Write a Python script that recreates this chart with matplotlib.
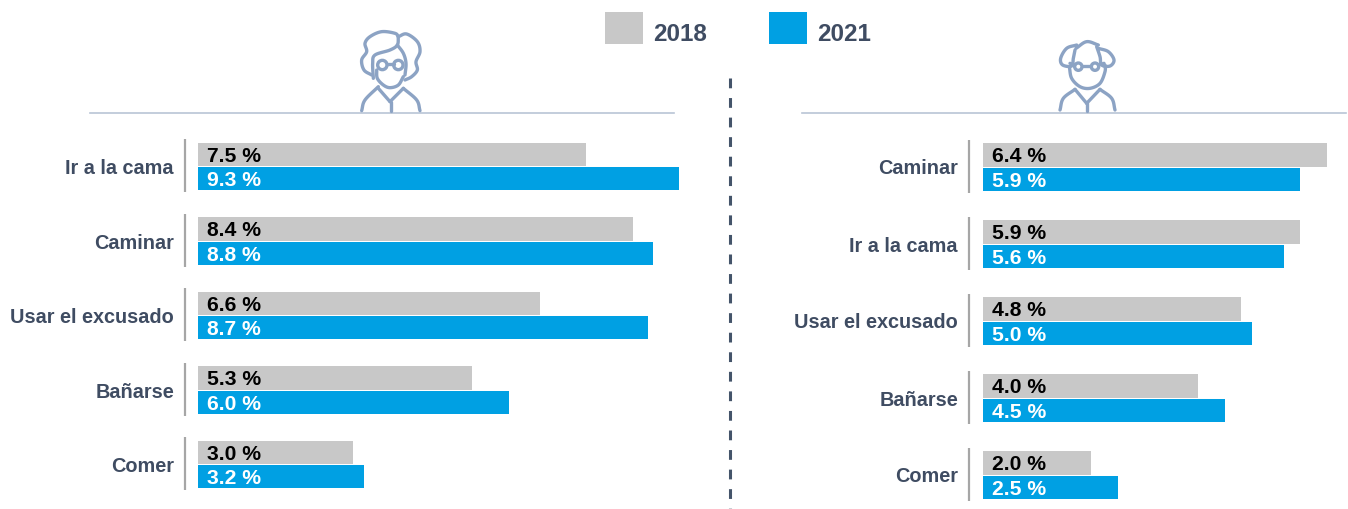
import numpy as np
import matplotlib
matplotlib.use("Agg")
import matplotlib.pyplot as plt
from matplotlib.patches import Rectangle, Circle
from matplotlib.transforms import blended_transform_factory

W, H = 1348, 510
GRAY, BLUE = "#C8C8C8", "#00A0E3"
INK = "#3F4C62"
RULE = "#B9C5D6"
ICON = "#8CA3C4"

left_cats = ["Ir a la cama", "Caminar", "Usar el excusado", "Bañarse", "Comer"]
left_2018 = [7.5, 8.4, 6.6, 5.3, 3.0]
left_2021 = [9.3, 8.8, 8.7, 6.0, 3.2]
right_cats = ["Caminar", "Ir a la cama", "Usar el excusado", "Bañarse", "Comer"]
right_2018 = [6.4, 5.9, 4.8, 4.0, 2.0]
right_2021 = [5.9, 5.6, 5.0, 4.5, 2.5]
legend_years = ["2018", "2021"]

plt.rcParams["font.family"] = ["Liberation Sans", "DejaVu Sans"]
fig = plt.figure(figsize=(W / 100, H / 100), dpi=100, facecolor="white")

def make_axes(px_x0, px_x1, px_top, px_bottom):
    return fig.add_axes([px_x0 / W, 1 - px_bottom / H, (px_x1 - px_x0) / W, (px_bottom - px_top) / H])

def panel(px_x0, px_per_unit, center0, spacing, cats, v18, v21, px_axis):
    px_top = center0 - spacing / 2
    px_bottom = px_top + 5 * spacing
    xmax = (1348 - px_x0) / px_per_unit
    ax = make_axes(px_x0, 1348, px_top, px_bottom)
    ax.set_xlim(0, xmax)
    ax.set_ylim(4.5, -0.5)
    ax.axis("off")
    y = np.arange(len(cats))
    h = 23.3 / spacing
    gap = 0.5 / spacing
    ax.barh(y - h / 2 - gap, v18, height=h, color=GRAY, linewidth=0)
    ax.barh(y + h / 2 + gap, v21, height=h, color=BLUE, linewidth=0)
    tr = blended_transform_factory(fig.transFigure, ax.transData)
    ax_x = px_axis / W
    half = 26.5 / spacing
    nudge = 1.0 / spacing
    for i, cat in enumerate(cats):
        ax.plot([ax_x, ax_x], [i - half - nudge, i + half - nudge], transform=tr, color="#A6A6A6",
                lw=1.6, solid_capstyle="butt", clip_on=False)
        ax.text(ax_x - 11 / W, i + nudge, cat, transform=tr, ha="right", va="center",
                fontsize=14.3, fontweight="bold", color=INK)
        pad = 9 / px_per_unit
        ax.text(pad, i - h / 2 - gap + nudge, f"{v18[i]:.1f} %", ha="left", va="center",
                fontsize=15.2, fontweight="bold", color="black")
        ax.text(pad, i + h / 2 + gap + nudge, f"{v21[i]:.1f} %", ha="left", va="center",
                fontsize=15.2, fontweight="bold", color="white")

panel(198, 51.75, 167.5, 74.5, left_cats, left_2018, left_2021, 185)
panel(983, 53.8, 168.0, 77.0, right_cats, right_2018, right_2021, 969)

# overlay in pixel coordinates for decoration
ov = fig.add_axes([0, 0, 1, 1], zorder=5)
ov.set_xlim(0, W)
ov.set_ylim(H - 1, -1)
ov.axis("off")
ov.patch.set_alpha(0)

ov.plot([90, 674], [113, 113], color=RULE, lw=1.2)
ov.plot([802, 1346], [113, 113], color=RULE, lw=1.2)
ov.plot([730, 730], [78, 510], color="#44546A", lw=2.2, dashes=(3.2, 3.2))

for x, c, year in zip((605, 769), (GRAY, BLUE), legend_years):
    ov.add_patch(Rectangle((x, 12), 38, 32, color=c, lw=0))
    ov.text(x + 48, 33.5, year, ha="left", va="center", fontsize=17.5, fontweight="bold", color=INK)

def smooth(pts, n=12):
    p = np.array(pts, float)
    p = np.vstack([2 * p[0] - p[1], p, 2 * p[-1] - p[-2]])
    out = []
    t = np.linspace(0, 1, n, endpoint=False)[:, None]
    for i in range(1, len(p) - 2):
        a, b, c, d = p[i - 1], p[i], p[i + 1], p[i + 2]
        out.append(0.5 * (2 * b + (c - a) * t + (2 * a - 5 * b + 4 * c - d) * t ** 2 + (3 * b - a - 3 * c + d) * t ** 3))
    out.append(p[-2][None, :])
    return np.vstack(out)

def icon(curves, circles, ox, oy):
    for pts in curves:
        s = smooth(pts) if len(pts) > 2 else np.array(pts, float)
        ov.plot(ox + s[:, 0] / 3, oy + s[:, 1] / 3, color=ICON, lw=2.4, solid_capstyle="round", solid_joinstyle="round")
    for (cx, cy, r) in circles:
        ov.add_patch(Circle((ox + cx / 3, oy + cy / 3), r / 3, fill=False, ec=ICON, lw=2.4))

icon([
    [(95, 165), (72, 150), (65, 120), (80, 95), (75, 70), (90, 50), (125, 35), (165, 40), (175, 50)],
    [(175, 50), (200, 42), (232, 65), (240, 95), (228, 125), (232, 150), (215, 170), (195, 180)],
    [(175, 50), (172, 75), (150, 90), (105, 105), (98, 130), (100, 175)],
    [(172, 75), (190, 100), (198, 130), (195, 165)],
    [(110, 150), (112, 175), (130, 195), (150, 203), (175, 195), (190, 170)],
    [(140, 132), (162, 132)],
    [(65, 272), (75, 240), (115, 200)],
    [(240, 272), (230, 240), (190, 205)],
    [(115, 205), (150, 245)], [(150, 245), (190, 205)], [(152, 245), (152, 272)],
], [(127, 135, 14), (175, 135, 14)], 340, 20)

icon([
    [(110, 45), (80, 55), (62, 85), (68, 105), (95, 108), (100, 85), (105, 60)],
    [(108, 55), (140, 35), (175, 45)],
    [(175, 55), (205, 65), (222, 90), (210, 108), (185, 105), (180, 80), (170, 50)],
    [(88, 110), (95, 145), (120, 170), (150, 175), (180, 160), (195, 125), (195, 105)],
    [(126, 107), (154, 107)], [(104, 105), (90, 100)], [(176, 105), (192, 100)],
    [(60, 240), (70, 205), (105, 178)],
    [(225, 240), (215, 205), (180, 178)],
    [(105, 178), (140, 220)], [(140, 220), (180, 178)], [(140, 220), (140, 242)],
], [(115, 110, 11), (165, 110, 11)], 1040, 30)

fig.savefig("out.png", dpi=100)
